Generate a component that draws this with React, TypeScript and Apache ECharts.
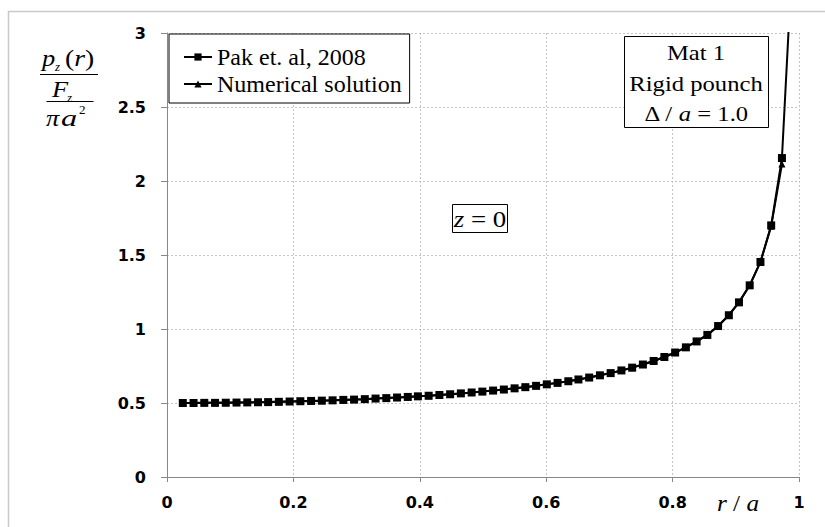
import React, { useEffect, useRef } from "react";
import * as echarts from "echarts";

// r/a positions of the plotted markers
const rValues = [
  0.025, 0.042, 0.059, 0.076, 0.093, 0.110, 0.127, 0.144, 0.160, 0.177,
  0.194, 0.211, 0.228, 0.245, 0.262, 0.279, 0.296, 0.313, 0.330, 0.347,
  0.364, 0.381, 0.397, 0.414, 0.431, 0.448, 0.465, 0.482, 0.499, 0.516,
  0.533, 0.550, 0.567, 0.584, 0.601, 0.618, 0.635, 0.651, 0.668, 0.685,
  0.702, 0.719, 0.736, 0.753, 0.770, 0.787, 0.804, 0.821, 0.838, 0.855,
  0.872, 0.889, 0.905, 0.922, 0.939, 0.956, 0.973,
];

// Pak et. al, 2008
const pakValues = [
  0.500, 0.500, 0.501, 0.501, 0.502, 0.503, 0.504, 0.505, 0.506, 0.508,
  0.510, 0.512, 0.514, 0.516, 0.518, 0.521, 0.523, 0.526, 0.530, 0.533,
  0.537, 0.541, 0.545, 0.549, 0.554, 0.559, 0.565, 0.571, 0.577, 0.584,
  0.591, 0.599, 0.607, 0.616, 0.626, 0.636, 0.647, 0.659, 0.672, 0.687,
  0.702, 0.720, 0.739, 0.760, 0.784, 0.811, 0.841, 0.876, 0.916, 0.960,
  1.020, 1.093, 1.180, 1.295, 1.453, 1.700, 2.155,
];
// the Pak curve continues above the plot top
const pakTailR = 0.99;
const pakTailValue = 3.55;

// Numerical solution
const numValues = [
  0.500, 0.500, 0.501, 0.501, 0.502, 0.503, 0.504, 0.505, 0.506, 0.508,
  0.510, 0.512, 0.514, 0.516, 0.518, 0.521, 0.523, 0.526, 0.530, 0.533,
  0.537, 0.541, 0.545, 0.549, 0.554, 0.559, 0.565, 0.571, 0.577, 0.584,
  0.591, 0.599, 0.607, 0.616, 0.626, 0.636, 0.647, 0.659, 0.672, 0.687,
  0.702, 0.720, 0.739, 0.760, 0.784, 0.811, 0.841, 0.876, 0.916, 0.960,
  1.020, 1.093, 1.180, 1.295, 1.453, 1.695, 2.115,
];

const seriesNames = ["Pak et. al, 2008", "Numerical solution"];
const xTicks = { min: 0, max: 1, interval: 0.2 };
const yTicks = { min: 0, max: 3, interval: 0.5 };

const SERIF = "'Liberation Serif', 'Times New Roman', serif";
const SANS = "'DejaVu Sans', Verdana, sans-serif";

function buildOption(): any {
  const pakData: any[] = rValues.map((r, i) => [r, pakValues[i]]);
  pakData.push({ value: [pakTailR, pakTailValue], symbol: "none" });
  const numData = rValues.map((r, i) => [r, numValues[i]]);

  const mainText = (x: number, y: number, rich: string, size = 22, scaleX = 1, align = "center") => ({
    type: "text",
    x,
    y,
    scaleX,
    z: 20,
    style: {
      text: rich,
      align,
      verticalAlign: "middle",
      fill: "#000",
      fontFamily: SERIF,
      fontSize: size,
      rich: {
        i: { fontFamily: SERIF, fontSize: size, fontStyle: "italic", fill: "#000" },
        n: { fontFamily: SERIF, fontSize: size, fill: "#000" },
      },
    },
  });

  const small = (x: number, y: number, t: string, italic = true) => ({
    type: "text",
    x,
    y,
    z: 20,
    style: {
      text: t,
      align: "left",
      verticalAlign: "middle",
      fill: "#000",
      fontFamily: SERIF,
      fontSize: 13,
      fontStyle: italic ? "italic" : "normal",
    },
  });

  const graphic: any[] = [
    // outer chart border
    {
      type: "rect",
      shape: { x: 8.5, y: 11.5, width: 840, height: 540 },
      style: { fill: "none", stroke: "#c8c8c8", lineWidth: 1.5 },
      z: 0,
      silent: true,
    },
    // y-axis label: p_z(r) / (F_z / (pi a^2))
    mainText(42, 58, "{i|p}", 24, 1.1, "left"),
    small(55, 66, "z"),
    mainText(65, 58, "{n|(}{i|r}{n|)}", 24, 1.15, "left"),
    { type: "line", shape: { x1: 40, y1: 74.5, x2: 98, y2: 74.5 }, style: { stroke: "#000", lineWidth: 1 }, z: 20 },
    mainText(52, 89, "{i|F}", 24, 1.1, "left"),
    small(67, 97, "z"),
    { type: "line", shape: { x1: 46.5, y1: 101.5, x2: 93.5, y2: 101.5 }, style: { stroke: "#000", lineWidth: 1 }, z: 20 },
    mainText(46, 118, "{i|π}", 24, 1.1, "left"),
    mainText(61, 118, "{i|a}", 24, 1.35, "left"),
    small(79, 109, "2", false),
    // x-axis label r / a
    mainText(738, 503, "{i|r}{n| / }{i|a}", 24, 1.05),
    // z = 0 box
    {
      type: "rect",
      shape: { x: 452.5, y: 204.5, width: 55, height: 28 },
      style: { fill: "#fff", stroke: "#000", lineWidth: 1 },
      z: 15,
    },
    mainText(480, 218.5, "{i|z}{n| = 0}", 24, 1.12),
    // Mat 1 box
    {
      type: "rect",
      shape: { x: 624.5, y: 36.5, width: 144, height: 91 },
      style: { fill: "#fff", stroke: "#000", lineWidth: 1 },
      z: 15,
    },
    mainText(696, 52, "{n|Mat 1}", 22, 1.12),
    mainText(696, 83.5, "{n|Rigid pounch}", 22, 1.12),
    mainText(696, 113.5, "{n|Δ / }{i|a}{n| = 1.0}", 22, 1.12),
  ];

  return {
    animation: false,
    backgroundColor: "#fff",
    textStyle: { fontFamily: SANS },
    grid: { left: 167, right: 26, top: 33, bottom: 50 },
    legend: {
      orient: "vertical",
      left: 169,
      top: 34,
      data: seriesNames,
      backgroundColor: "#fff",
      borderColor: "#000",
      borderWidth: 1,
      borderRadius: 0,
      padding: [11, 8, 7, 14],
      itemWidth: 28,
      itemHeight: 9,
      itemGap: 3,
      selectedMode: false,
      textStyle: { fontFamily: SERIF, fontSize: 24, color: "#000" },
      z: 15,
    },
    xAxis: {
      type: "value",
      min: xTicks.min,
      max: xTicks.max,
      interval: xTicks.interval,
      axisLine: { show: true, onZero: false, lineStyle: { color: "#888", width: 1 } },
      axisTick: { show: true, length: 5, lineStyle: { color: "#888" } },
      axisLabel: { color: "#000", fontFamily: SANS, fontWeight: "bold", fontSize: 16, margin: 17 },
      splitLine: { show: true, lineStyle: { color: "#c4c4c4", type: [2, 2], width: 1 } },
    },
    yAxis: {
      type: "value",
      min: yTicks.min,
      max: yTicks.max,
      interval: yTicks.interval,
      axisLine: { show: true, onZero: false, lineStyle: { color: "#888", width: 1 } },
      axisTick: { show: true, length: 6, lineStyle: { color: "#888" } },
      axisLabel: { color: "#000", fontFamily: SANS, fontWeight: "bold", fontSize: 16, margin: 21 },
      splitLine: { show: true, lineStyle: { color: "#c4c4c4", type: [2, 2], width: 1 } },
    },
    series: [
      {
        name: seriesNames[1],
        type: "line",
        data: numData,
        symbol: "triangle",
        symbolSize: 7,
        lineStyle: { color: "#000", width: 2 },
        itemStyle: { color: "#000" },
        clip: true,
        z: 2,
      },
      {
        name: seriesNames[0],
        type: "line",
        data: pakData,
        symbol: "rect",
        symbolSize: 8,
        lineStyle: { color: "#000", width: 2 },
        itemStyle: { color: "#000" },
        clip: true,
        z: 3,
      },
    ],
    graphic: { elements: graphic },
  };
}

export default function App() {
  const ref = useRef<HTMLDivElement>(null);
  useEffect(() => {
    const chart = echarts.init(ref.current!, null, { renderer: "svg" });
    chart.setOption(buildOption());
    return () => chart.dispose();
  }, []);
  return (
    <div
      ref={ref}
      style={{ position: "absolute", left: 0, top: 0, width: 825, height: 527, background: "#fff" }}
    />
  );
}
